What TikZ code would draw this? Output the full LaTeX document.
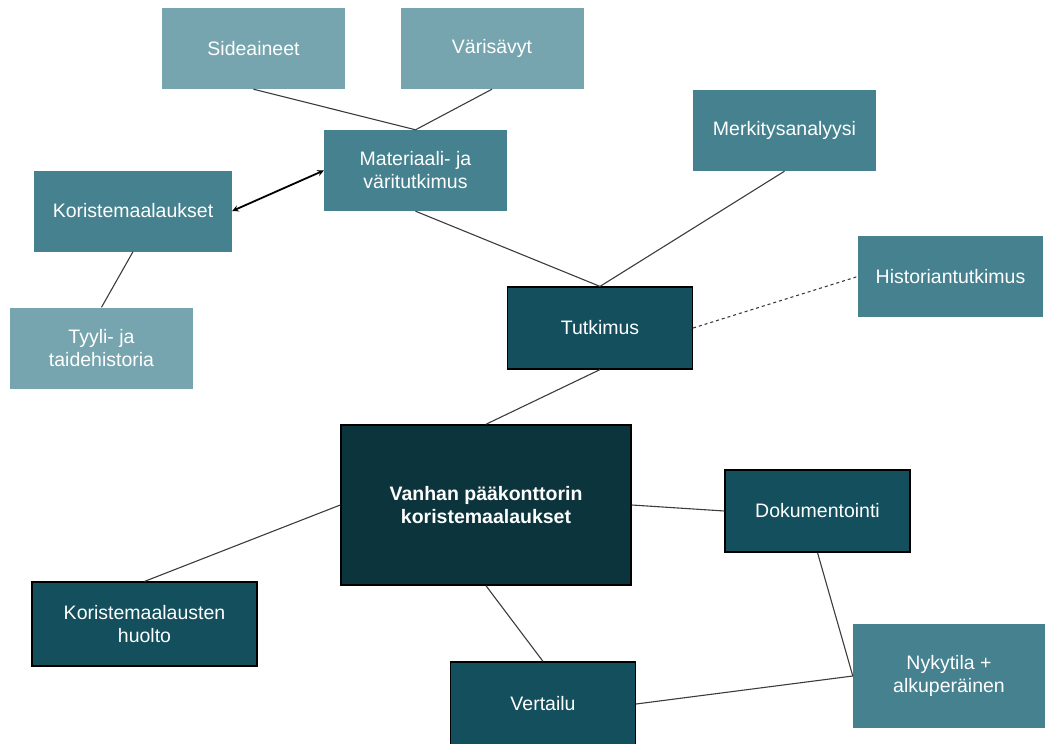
\documentclass[tikz,border=0pt]{standalone}
\usepackage{fontspec}
\setmainfont{Liberation Sans}
\usetikzlibrary{positioning}

\definecolor{lightteal}{HTML}{76A5AF}
\definecolor{midteal}{HTML}{45818E}
\definecolor{darkteal}{HTML}{134F5C}
\definecolor{deepteal}{HTML}{0C343D}
\definecolor{linegray}{HTML}{3C3C3C}

\tikzset{
  box/.style={rectangle, align=center, text=white, inner sep=2pt,
    font=\fontsize{19.5}{23}\selectfont},
  lightbox/.style={box, fill=lightteal, minimum width=183pt, minimum height=81pt},
  midbox/.style={box, fill=midteal, minimum width=183pt, minimum height=81pt},
  darkbox/.style={box, fill=darkteal, draw=black, line width=1.2pt,
    minimum width=185pt, minimum height=82pt},
  rootbox/.style={box, fill=deepteal, draw=black, line width=1.5pt,
    minimum width=290pt, minimum height=160pt, font=\fontsize{19.5}{23}\selectfont\bfseries},
  link/.style={draw=linegray, line width=1.1pt},
  weaklink/.style={link, dashed},
}

\begin{document}
\begin{tikzpicture}[x=1pt,y=-1pt]
\useasboundingbox (0,0) rectangle (1045,744);

% upper part: research
\node[lightbox] (sideaineet) at (253.5,48.5) {Sideaineet};
\node[lightbox] (varisavyt) at (492,48.5) {Värisävyt};
\node[midbox] (materiaali) at (415.5,170.5) {Materiaali- ja\\väritutkimus};
\node[midbox, minimum width=198pt] (koriste) at (133,211) {Koristemaalaukset};
\node[lightbox] (tyyli) at (101.5,348) {Tyyli- ja\\taidehistoria};
\node[midbox] (merkitys) at (784.5,130.5) {Merkitysanalyysi};
\node[darkbox] (tutkimus) at (600,328) {Tutkimus};
\node[midbox, minimum width=185pt] (historia) at (950.5,276.5) {Historiantutkimus};

% lower part
\node[rootbox] (paa) at (486,505) {Vanhan pääkonttorin\\koristemaalaukset};
\node[darkbox] (dokumentointi) at (817.5,511) {Dokumentointi};
\node[darkbox, minimum width=225pt, minimum height=84pt] (huolto) at (144.5,624) {Koristemaalausten\\huolto};
\node[darkbox, minimum height=84pt] (vertailu) at (543,704) {Vertailu};
\node[midbox, minimum width=192pt, minimum height=104pt] (nykytila) at (949,676) {Nykytila +\\alkuperäinen};

\draw[link] (sideaineet.south) -- (materiaali.north);
\draw[link] (varisavyt.south) -- (materiaali.north);
\draw[link, draw=black, line width=1.8pt, <->, >=stealth] (koriste.east) -- (materiaali.west);
\draw[link] (koriste.south) -- (tyyli.north);
\draw[link] (materiaali.south) -- (tutkimus.north);
\draw[link] (merkitys.south) -- (tutkimus.north);
\draw[weaklink] (tutkimus.east) -- (historia.west);
\draw[link] (tutkimus.south) -- (paa.north);
\draw[link] (paa.west) -- (huolto.north);
\draw[link] (paa.east) -- (dokumentointi.west);
\draw[link] (paa.south) -- (vertailu.north);
\draw[link] (dokumentointi.south) -- (nykytila.west);
\draw[link] (vertailu.east) -- (nykytila.west);
\end{tikzpicture}
\end{document}
